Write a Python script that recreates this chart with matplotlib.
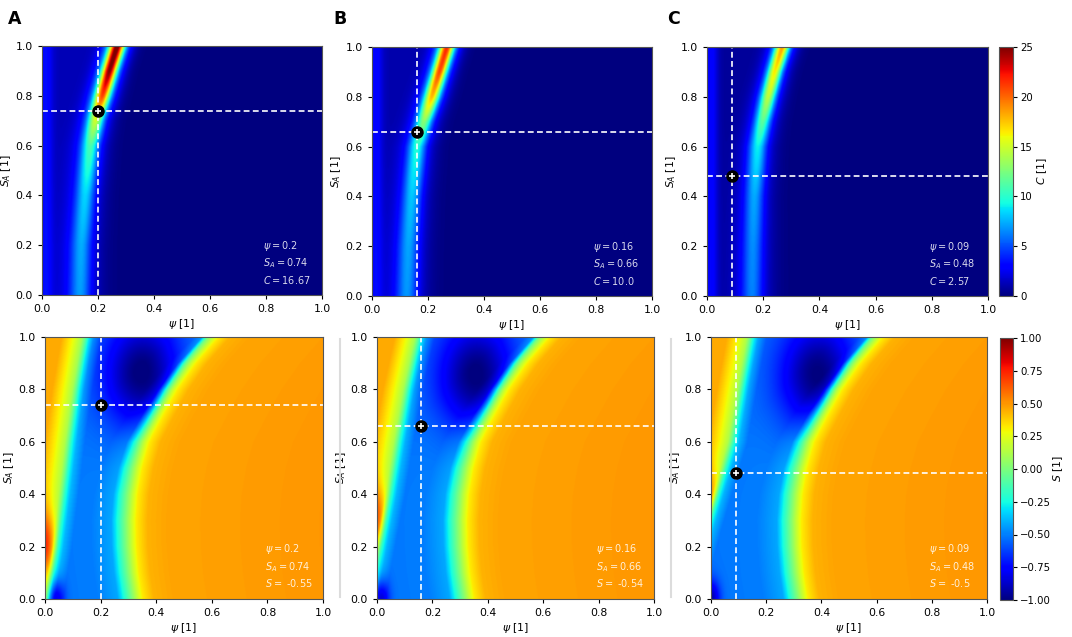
import numpy as np
import matplotlib
matplotlib.use("Agg")
import matplotlib.pyplot as plt
from matplotlib.lines import Line2D

# chosen operating points per column
panel_letters = ["A", "B", "C"]
point_psi = [0.2, 0.16, 0.09]
point_sa = [0.74, 0.66, 0.48]
point_c = ["16.67", "10.0", "2.57"]
point_s = ["-0.55", "-0.54", "-0.5"]

# top row (C): ridge at these S_A levels
ridge_sa = [0.0, 0.2, 0.4, 0.6, 0.7, 0.8, 0.9, 1.0]
ridge_psi_A = [0.136, 0.140, 0.154, 0.172, 0.190, 0.215, 0.240, 0.268]
ridge_psi_B = [0.124, 0.130, 0.142, 0.160, 0.185, 0.213, 0.240, 0.267]
ridge_psi_C = [0.160, 0.163, 0.168, 0.180, 0.197, 0.217, 0.240, 0.267]
ridge_peak_A = [6.0, 6.4, 7.4, 10.0, 14.0, 20.0, 24.0, 25.0]
ridge_peak_B = [6.0, 6.4, 7.2, 9.0, 12.0, 17.0, 20.0, 21.0]
ridge_peak_C = [5.8, 6.1, 6.8, 8.6, 11.0, 14.0, 16.0, 18.0]
ridge_width = [0.026, 0.025, 0.023, 0.021, 0.019, 0.018, 0.017, 0.017]
left_level = [1.2, 1.0, 0.6]
edge_stripe = [2.2, 2.2, 2.6]

# bottom row (S): arc-shaped zero line and left edge zero line
arc_sa = [0.0, 0.1, 0.2, 0.3, 0.4, 0.5, 0.6, 0.7, 0.8, 0.9, 1.0]
arc_psi = [0.312, 0.298, 0.290, 0.288, 0.294, 0.310, 0.336, 0.385, 0.437, 0.503, 0.585]
arc_sharp = [1.0, 1.0, 1.0, 1.0, 0.97, 0.92, 0.84, 0.74, 0.62, 0.5, 0.4]
arc_offset = [-0.3, -0.12, -0.05, -0.03, 0.0, 0.02, 0.04, 0.08, 0.15, 0.7]
arc_level = [-0.52, -0.5, -0.42, -0.25, 0.0, 0.17, 0.32, 0.44, 0.47, 0.5]

edge_sa = [0.0, 0.2, 0.4, 0.6, 0.8, 1.0]
edge_psi_A = [0.005, 0.036, 0.060, 0.083, 0.110, 0.144]
edge_psi_B = [-0.030, 0.005, 0.040, 0.071, 0.105, 0.148]
edge_psi_C = [-0.090, -0.040, 0.015, 0.072, 0.105, 0.141]
edge_offset = [-0.085, -0.045, -0.012, 0.0, 0.012, 0.03, 0.06]
edge_level = [0.48, 0.32, 0.15, 0.0, -0.2, -0.38, -0.5]

# local extrema (psi, S_A, amplitude)
red_spot = [(0.0, 0.2, 0.5), (0.0, 0.3, 0.45), (0.0, 0.36, 0.4)]
dark_blob = [(0.35, 0.86), (0.36, 0.85), (0.39, 0.85)]
corner_dark = [(0.035, 0.0), (0.01, 0.0), (0.0, 0.0)]

ridge_psi = [ridge_psi_A, ridge_psi_B, ridge_psi_C]
ridge_peak = [ridge_peak_A, ridge_peak_B, ridge_peak_C]
edge_psi = [edge_psi_A, edge_psi_B, edge_psi_C]

n = 500
psi = np.linspace(0, 1, n)
sa = np.linspace(0, 1, n)
P, SA = np.meshgrid(psi, sa)


def sig(x):
    return 1.0 / (1.0 + np.exp(-x))


def field_c(k):
    c = np.interp(SA, ridge_sa, ridge_psi[k])
    a = np.interp(SA, ridge_sa, ridge_peak[k])
    w = np.interp(SA, ridge_sa, ridge_width)
    x = (P - c) / w
    z = a * (0.65 * np.exp(-0.5 * x ** 2) + 0.35 * np.exp(-0.5 * (x / 2.0) ** 2))
    z += left_level[k] * sig(-(P - c - 0.03) / 0.02)
    z += edge_stripe[k] * np.exp(-0.5 * ((P - 0.012) / 0.018) ** 2)
    return z


def field_s(k):
    d_arc = P - np.interp(SA, arc_sa, arc_psi)
    sharp = np.interp(SA, arc_sa, arc_sharp)
    d_arc_l = np.where(d_arc < 0, d_arc / sharp, d_arc)
    d_edge = P - np.interp(SA, edge_sa, edge_psi[k])
    z = np.interp(d_arc_l, arc_offset, arc_level)
    z += np.interp(d_edge, edge_offset, edge_level) + 0.5
    rp, rs, ra = red_spot[k]
    z += ra * np.exp(-0.5 * (((P - rp) / 0.03) ** 2 + ((SA - rs) / 0.09) ** 2)) * sig(-d_edge / 0.006)
    bp, bs = dark_blob[k]
    z -= 0.5 * np.exp(-0.5 * (((P - bp) / 0.1) ** 2 + ((SA - bs) / 0.15) ** 2)) * sig(-d_arc / 0.01)
    cp, cs = corner_dark[k]
    z -= 0.4 * np.exp(-0.5 * (((P - cp) / 0.022) ** 2 + ((SA - cs) / 0.05) ** 2)) * sig(d_edge / 0.008)
    return np.clip(z, -1, 1)


W, H = 1072, 637
fig = plt.figure(figsize=(W / 100, H / 100), dpi=100)


def box(x0, y0, x1, y1):
    return [x0 / W, 1 - y1 / H, (x1 - x0) / W, (y1 - y0) / H]


top_boxes = [box(42, 46, 322, 295), box(372, 47, 652, 296), box(707, 47, 988, 296)]
bot_boxes = [box(45, 337, 323, 599), box(377, 337, 654, 599), box(711, 337, 987, 599)]

# light separators between bottom panels
for xs in [340, 671]:
    fig.add_artist(Line2D([xs / W, xs / W], [1 - 597 / H, 1 - 339 / H], color="#dcdcdc", lw=1.5))

fs = 7.8
for k in range(3):
    for row, bx in enumerate([top_boxes[k], bot_boxes[k]]):
        ax = fig.add_axes(bx)
        if row == 0:
            im = ax.imshow(field_c(k), origin="lower", extent=[0, 1, 0, 1], cmap="jet",
                           vmin=0, vmax=25, aspect="auto", interpolation="bilinear")
            txt = f"$\\psi = {point_psi[k]}$\n$S_A = {point_sa[k]}$\n$C = {point_c[k]}$"
        else:
            im = ax.imshow(field_s(k), origin="lower", extent=[0, 1, 0, 1], cmap="jet",
                           vmin=-1, vmax=1, aspect="auto", interpolation="bilinear")
            txt = f"$\\psi = {point_psi[k]}$\n$S_A = {point_sa[k]}$\n$S =$ {point_s[k]}"
        ax.axvline(point_psi[k], color="white", ls="--", lw=1.2, dashes=(3.5, 2))
        ax.axhline(point_sa[k], color="white", ls="--", lw=1.2, dashes=(3.5, 2))
        ax.plot(point_psi[k], point_sa[k], "o", color="black", ms=8)
        ax.plot(point_psi[k], point_sa[k], "+", color="white", ms=5, mew=1.2)
        ax.text(0.79, 0.045, txt, transform=ax.transAxes, color="white", alpha=0.85,
                fontsize=7, linespacing=1.35)
        ax.set_xlim(0, 1)
        ax.set_ylim(0, 1)
        ticks = [0.0, 0.2, 0.4, 0.6, 0.8, 1.0]
        ax.set_xticks(ticks)
        ax.set_yticks(ticks)
        ax.tick_params(labelsize=fs, length=3)
        ax.set_xlabel("$\\psi$ [1]", fontsize=fs, labelpad=2)
        ax.set_ylabel("$S_A$ [1]", fontsize=fs, labelpad=2)
        for sp in ax.spines.values():
            sp.set_color("#555555")

        if k == 2:
            if row == 0:
                cax = fig.add_axes(box(999, 47, 1013, 296))
                cb = fig.colorbar(im, cax=cax, ticks=[0, 5, 10, 15, 20, 25])
                cb.set_label("$C$ [1]", fontsize=fs, labelpad=2)
            else:
                cax = fig.add_axes(box(1000, 338, 1013, 600))
                cb = fig.colorbar(im, cax=cax, ticks=np.arange(-1, 1.01, 0.25))
                cb.ax.set_yticklabels([f"{v:.2f}".replace("-", "\u2212") for v in np.arange(-1, 1.01, 0.25)])
                cb.set_label("$S$ [1]", fontsize=fs, labelpad=0)
            cb.ax.tick_params(labelsize=7.3, length=3, pad=2)
            cb.outline.set_edgecolor("#555555")

for k, xs in enumerate([8, 333, 667]):
    fig.text(xs / W, 1 - 10 / H, panel_letters[k], fontsize=12.5, fontweight="bold", va="top", ha="left")

fig.savefig("out.png", dpi=100)
